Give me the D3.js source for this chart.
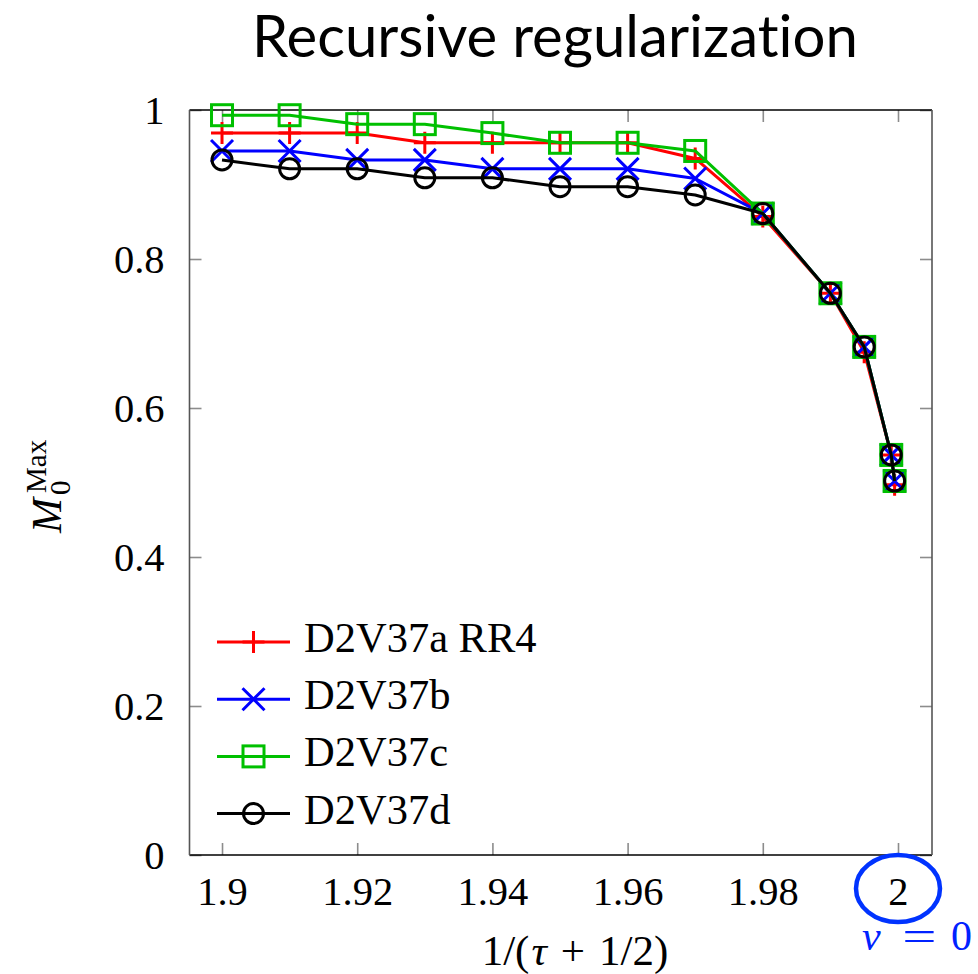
<!DOCTYPE html>
<html><head><meta charset="utf-8">
<script src="https://cdn.jsdelivr.net/npm/d3@7"></script>
<style>
body{margin:0;background:#fff;}
svg{display:block;}
.serif{font-family:'Liberation Serif','DejaVu Serif',serif;}
</style></head>
<body>
<script>
const xValues = [1.90,1.91,1.92,1.93,1.94,1.95,1.96,1.97,1.98,1.99,1.995,1.999,1.9995];
const seriesNames = ["D2V37a RR4","D2V37b","D2V37c","D2V37d"];
const redValues   = [0.969,0.969,0.969,0.956,0.956,0.956,0.956,0.935,0.857,0.754,0.675,0.537,0.497];
const blueValues  = [0.945,0.945,0.933,0.933,0.921,0.921,0.921,0.908,0.861,0.754,0.682,0.537,0.502];
const greenValues = [0.993,0.993,0.981,0.981,0.969,0.956,0.956,0.945,0.861,0.754,0.682,0.537,0.502];
const blackValues = [0.933,0.921,0.921,0.909,0.909,0.897,0.897,0.886,0.861,0.754,0.682,0.537,0.502];
const xTicks = [1.9,1.92,1.94,1.96,1.98,2];
const yTicks = [0,0.2,0.4,0.6,0.8,1];
const title = "Recursive regularization";

const W=978,H=974;
const L=189.5,R=932,T=110,B=855;
const svg=d3.select("body").append("svg").attr("width",W).attr("height",H);
const x=d3.scaleLinear().domain([1.89519,2.00503]).range([L,R]);
const y=d3.scaleLinear().domain([0,1]).range([B,T]);

// title
const tt=svg.append("text").attr("x",555).attr("y",57).attr("text-anchor","middle")
  .style("font-family","Lato, 'Open Sans', sans-serif").style("font-variant-ligatures","none")
  .attr("font-size",50).attr("fill","#000").text(title);
{const w=tt.node().getComputedTextLength(); tt.attr("font-size",50*606/w);}

const tickCol="#8c8c8c";
function styleAxis(g){g.select(".domain").remove();g.attr("font-family",null).attr("font-size",null);
  g.selectAll(".tick line").attr("stroke",tickCol).attr("stroke-width",1.6);
  g.selectAll("text").attr("class","serif").attr("font-size",40.5).attr("fill","#000");}
svg.append("g").attr("transform",`translate(0,${B})`)
  .call(d3.axisBottom(x).tickValues(xTicks).tickSizeInner(-12).tickSizeOuter(0).tickPadding(22).tickFormat(d3.format("~g")))
  .call(styleAxis)
  .selectAll("text").attr("y",50).attr("dy",null);
svg.append("g").attr("transform",`translate(0,${T})`)
  .call(d3.axisTop(x).tickValues(xTicks).tickSizeInner(-12).tickSizeOuter(0).tickFormat(""))
  .call(styleAxis);
svg.append("g").attr("transform",`translate(${L},0)`)
  .call(d3.axisLeft(y).tickValues(yTicks).tickSizeInner(-12).tickSizeOuter(0).tickPadding(25).tickFormat(d3.format("~g")))
  .call(styleAxis)
  .selectAll("text").attr("dy","0.33em");
svg.append("g").attr("transform",`translate(${R},0)`)
  .call(d3.axisRight(y).tickValues(yTicks).tickSizeInner(-12).tickSizeOuter(0).tickFormat(""))
  .call(styleAxis);

// frame
svg.append("line").attr("x1",L).attr("x2",R).attr("y1",T).attr("y2",T).attr("stroke","#000").attr("stroke-width",1.6);
svg.append("line").attr("x1",L).attr("x2",R).attr("y1",B).attr("y2",B).attr("stroke","#000").attr("stroke-width",1.6);
svg.append("line").attr("x1",L).attr("x2",L).attr("y1",T).attr("y2",B).attr("stroke","#555").attr("stroke-width",1.6);
svg.append("line").attr("x1",R).attr("x2",R).attr("y1",T).attr("y2",B).attr("stroke","#555").attr("stroke-width",1.6);

const series=[
  {name:seriesNames[0],color:"#ff0000",values:redValues,marker:"plus"},
  {name:seriesNames[1],color:"#0000ff",values:blueValues,marker:"cross"},
  {name:seriesNames[2],color:"#00c000",values:greenValues,marker:"square"},
  {name:seriesNames[3],color:"#000000",values:blackValues,marker:"circle"}
];
function drawMarker(g,type,cx,cy,color){
  const s=11;
  if(type==="plus"){
    g.append("path").attr("d",`M${cx-s},${cy}H${cx+s}M${cx},${cy-s}V${cy+s}`).attr("stroke",color).attr("stroke-width",3).attr("fill","none");
  }else if(type==="cross"){
    const d=11;
    g.append("path").attr("d",`M${cx-d},${cy-d}L${cx+d},${cy+d}M${cx-d},${cy+d}L${cx+d},${cy-d}`).attr("stroke",color).attr("stroke-width",3).attr("fill","none");
  }else if(type==="square"){
    g.append("rect").attr("x",cx-10.5).attr("y",cy-10.5).attr("width",21).attr("height",21).attr("stroke",color).attr("stroke-width",3).attr("fill","none");
  }else{
    g.append("circle").attr("cx",cx).attr("cy",cy).attr("r",10).attr("stroke",color).attr("stroke-width",3).attr("fill","none");
  }
}
const line=d3.line().x(d=>x(d[0])).y(d=>y(d[1]));
series.forEach(s=>{
  const g=svg.append("g");
  const pts=xValues.map((xv,i)=>[xv,s.values[i]]);
  g.append("path").attr("d",line(pts)).attr("stroke",s.color).attr("stroke-width",3).attr("fill","none").attr("stroke-linejoin","round");
  pts.forEach(p=>drawMarker(g,s.marker,x(p[0]),y(p[1]),s.color));
});

// legend
series.forEach((s,i)=>{
  const cy=642+i*57.2;
  const g=svg.append("g");
  g.append("line").attr("x1",217).attr("x2",290).attr("y1",cy).attr("y2",cy).attr("stroke",s.color).attr("stroke-width",3);
  drawMarker(g,s.marker,253.5,cy,s.color);
  g.append("text").attr("class","serif").attr("x",304).attr("y",cy+10).attr("font-size",42.5).attr("fill","#000").text(s.name);
});

// y label M_0^Max
const yl=svg.append("g").attr("transform","translate(61,533) rotate(-90)");
yl.append("text").attr("class","serif").attr("x",0).attr("y",0).attr("font-style","italic").attr("font-size",42).text("M");
yl.append("text").attr("class","serif").attr("x",40).attr("y",-15).attr("font-size",29).text("Max");
yl.append("text").attr("class","serif").attr("x",38).attr("y",9).attr("font-size",29).text("0");

// x label
const xl=svg.append("text").attr("class","serif").attr("x",462).attr("y",965).attr("font-size",43);
xl.append("tspan").text("1/(");
xl.append("tspan").attr("font-style","italic").attr("dx",2).text("τ");
xl.append("tspan").attr("dx",14).text("+");
xl.append("tspan").attr("dx",14).text("1/2)");
{const w=xl.node().getComputedTextLength(); xl.attr("x",560-w/2);}

// annotation
svg.append("ellipse").attr("cx",x(2)).attr("cy",888.5).attr("rx",42).attr("ry",33.5).attr("fill","none").attr("stroke","#0033ff").attr("stroke-width",4.5);
const blue="#0022ff";
svg.append("text").attr("class","serif").attr("x",862).attr("y",950).attr("font-size",42).attr("font-style","italic").attr("fill",blue).text("ν");
svg.append("text").attr("class","serif").attr("transform","translate(919.5,950) scale(1.45,1)").attr("text-anchor","middle").attr("font-size",42).attr("fill",blue).text("=");
svg.append("text").attr("class","serif").attr("x",951).attr("y",950).attr("font-size",42).attr("fill",blue).text("0");
</script>
</body></html>
